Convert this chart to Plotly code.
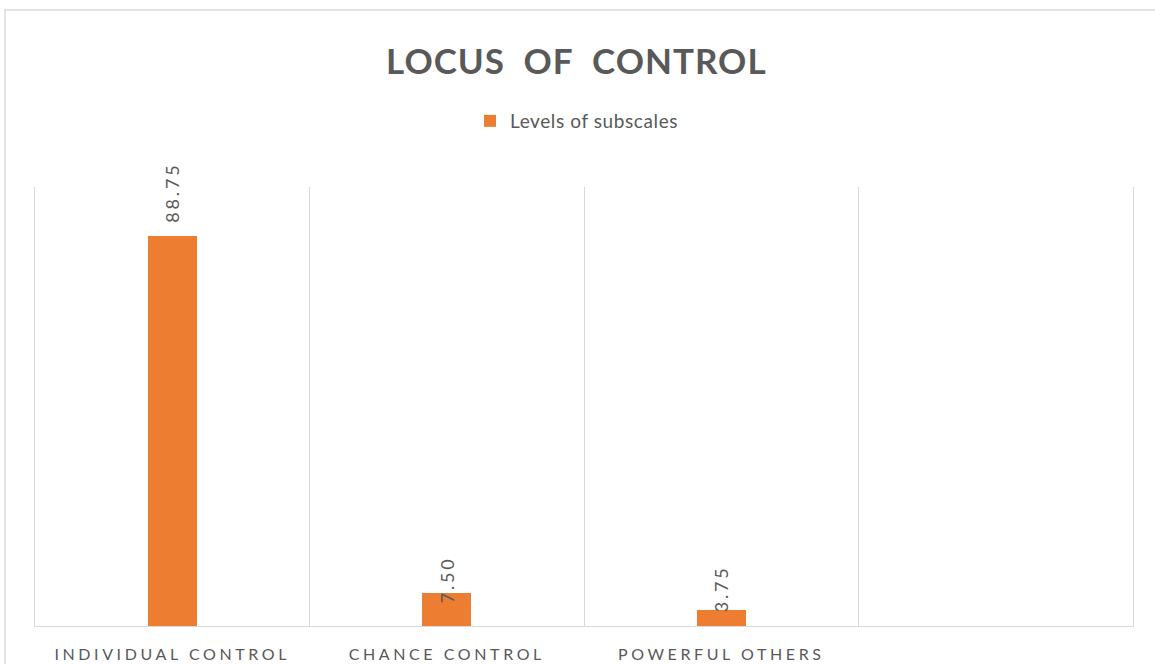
import plotly.graph_objects as go

# Chart data
categories = ["INDIVIDUAL CONTROL", "CHANCE CONTROL", "POWERFUL OTHERS"]
values = [88.75, 7.50, 3.75]
series_name = "Levels of subscales"
chart_title = "LOCUS OF CONTROL"
slot_count = 4  # the axis reserves one extra empty slot on the right

# Styling
BAR_COLOR = "#ED7D31"
TEXT_COLOR = "#595959"
GRID_COLOR = "#D9D9D9"
FONT = "Lato, 'Open Sans', sans-serif"
label_yshift = [12, -12, -5]

W, H = 1155, 664
M_L, M_R, M_T, M_B = 35, 22, 187, 38
plot_w = W - M_L - M_R
plot_h = H - M_T - M_B


def spaced(text, px):
    return f'<span style="letter-spacing:{px}px">{text}</span>'


positions = list(range(len(categories)))

fig = go.Figure()
fig.add_trace(go.Bar(
    x=positions,
    y=values,
    name=spaced(series_name, 0.6),
    marker=dict(color=BAR_COLOR, line=dict(width=0)),
    width=0.18,
    showlegend=True,
))

# Rotated value labels
for xi, v, dy in zip(positions, values, label_yshift):
    fig.add_annotation(
        x=xi, y=v, xref="x", yref="y",
        text=spaced(f"{v:.2f}", 2.8),
        textangle=-90,
        showarrow=False,
        yanchor="bottom",
        yshift=dy,
        font=dict(family=FONT, size=18, color=TEXT_COLOR),
    )

# Outer chart frame
fig.add_shape(
    type="rect", xref="paper", yref="paper",
    x0=(5 - M_L) / plot_w, x1=(W + 10 - M_L) / plot_w,
    y0=-(M_B + 10) / plot_h, y1=(H - M_B - 10) / plot_h,
    line=dict(color=GRID_COLOR, width=1.5),
    fillcolor="rgba(0,0,0,0)",
    layer="below",
)

boundaries = [i - 0.5 for i in range(slot_count + 1)]

fig.update_layout(
    width=W, height=H,
    margin=dict(l=M_L, r=M_R, t=M_T, b=M_B, autoexpand=False),
    paper_bgcolor="white",
    plot_bgcolor="white",
    title=dict(
        text=spaced("<b>" + chart_title.replace(" ", "\u2002") + "</b>", 1.0),
        x=0.499, xref="container", xanchor="center",
        y=1 - 62 / H, yref="container", yanchor="middle",
        font=dict(family=FONT, size=35, color=TEXT_COLOR),
    ),
    legend=dict(
        orientation="h",
        x=(577 - M_L) / plot_w, xanchor="center",
        y=(H - M_B - 121) / plot_h, yanchor="middle",
        font=dict(family=FONT, size=19, color=TEXT_COLOR),
        bgcolor="rgba(0,0,0,0)",
    ),
    xaxis=dict(
        range=[boundaries[0], boundaries[-1]],
        tickvals=positions,
        ticktext=[spaced(c, 3.6) for c in categories],
        tickfont=dict(family=FONT, size=16, color=TEXT_COLOR),
        showgrid=False,
        zeroline=False,
        showline=True,
        linecolor=GRID_COLOR,
        linewidth=1,
        ticks="",
        automargin=False,
        ticklabelstandoff=14,
        minor=dict(tickvals=boundaries, showgrid=True, gridcolor=GRID_COLOR, gridwidth=1, ticks=""),
    ),
    yaxis=dict(
        range=[0, 100],
        showticklabels=False,
        showgrid=False,
        zeroline=False,
        showline=True,
        mirror=True,
        linecolor=GRID_COLOR,
        linewidth=1,
        ticks="",
        automargin=False,
    ),
    bargap=0,
)

fig.write_html("out.html")
